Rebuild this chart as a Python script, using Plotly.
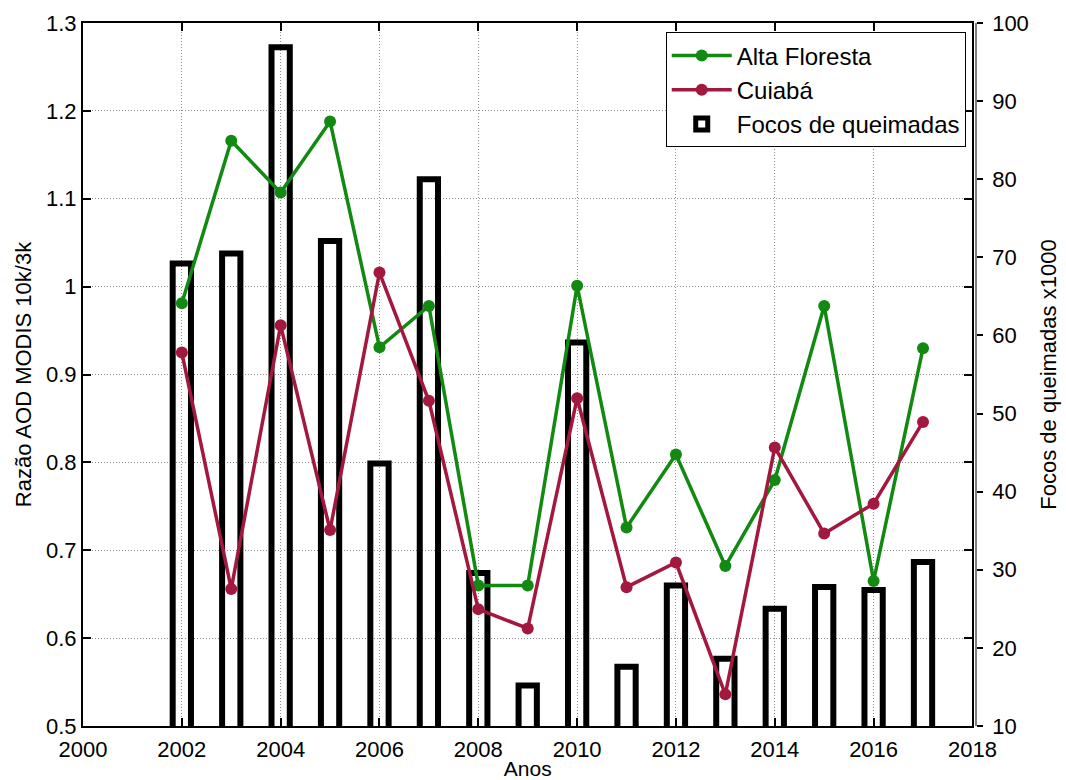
import plotly.graph_objects as go

# Annual series, 2002-2017
years = list(range(2002, 2018))
alta_floresta = [0.981, 1.166, 1.107, 1.188, 0.931, 0.978, 0.660, 0.660,
                 1.001, 0.726, 0.809, 0.682, 0.780, 0.978, 0.665, 0.930]
cuiaba = [0.925, 0.656, 0.956, 0.723, 1.016, 0.870, 0.633, 0.611,
          0.873, 0.658, 0.686, 0.536, 0.817, 0.719, 0.753, 0.846]
focos = [69.2, 70.5, 96.9, 72.1, 43.6, 80.0, 29.6, 15.2,
         59.1, 17.6, 28.0, 18.6, 25.0, 27.8, 27.4, 31.0]

x_ticks = list(range(2000, 2019, 2))
left_ticks = [0.5, 0.6, 0.7, 0.8, 0.9, 1.0, 1.1, 1.2, 1.3]
left_labels = ["0.5", "0.6", "0.7", "0.8", "0.9", "1", "1.1", "1.2", "1.3"]

GREEN = "#128a12"
RED = "#a3183f"
FONT = "Liberation Sans, Arial, sans-serif"

fig = go.Figure()

# Fire counts as open bars on the right-hand axis (base layer)
fig.add_trace(go.Bar(
    x=years, y=focos, yaxis="y", name="Focos de queimadas",
    width=0.37, legendrank=3,
    marker=dict(color="rgba(0,0,0,0)", line=dict(color="black", width=6)),
))

# AOD ratio lines on the left-hand axis (overlay, drawn above the bars)
fig.add_trace(go.Scatter(
    x=years, y=alta_floresta, yaxis="y2", name="Alta Floresta",
    mode="lines+markers", line=dict(color=GREEN, width=3.5),
    marker=dict(color=GREEN, size=12), legendrank=1,
))
fig.add_trace(go.Scatter(
    x=years, y=cuiaba, yaxis="y2", name="Cuiabá",
    mode="lines+markers", line=dict(color=RED, width=3.5),
    marker=dict(color=RED, size=12), legendrank=2,
))

grid = dict(showgrid=True, gridcolor="#8c8c8c", gridwidth=1, griddash="1px,2px")

fig.update_layout(
    width=1066, height=780,
    margin=dict(l=83, r=90, t=23, b=54, autoexpand=False),
    paper_bgcolor="white", plot_bgcolor="white",
    font=dict(family=FONT, size=22, color="black"),
    showlegend=True,
    barmode="overlay",
    xaxis=dict(
        domain=[0, 0.996], range=[2000, 2018], automargin=False,
        tickmode="array", tickvals=x_ticks,
        ticks="inside", ticklen=8, tickwidth=1.5, tickcolor="black",
        showline=True, linecolor="black", linewidth=2, mirror="ticks",
        zeroline=False, tickfont=dict(size=22), ticklabelstandoff=3,
        title=dict(text="Anos", font=dict(size=21), standoff=2),
        **grid,
    ),
    # right axis: fire counts
    yaxis=dict(
        range=[10, 100], dtick=10, side="right", automargin=False,
        anchor="free", position=1.0,
        ticks="outside", ticklen=6, tickwidth=1.5, tickcolor="black",
        showline=True, linecolor="#808080", linewidth=1.5,
        showgrid=False, zeroline=False, tickfont=dict(size=22),
        ticklabelstandoff=5,
        title=dict(text="Focos de queimadas x1000", font=dict(size=22), standoff=12),
    ),
    # left axis: AOD ratio
    yaxis2=dict(
        range=[0.5, 1.3], overlaying="y", side="left", anchor="x",
        automargin=False,
        tickmode="array", tickvals=left_ticks, ticktext=left_labels,
        ticks="inside", ticklen=8, tickwidth=2, tickcolor="black",
        showline=True, linecolor="black", linewidth=2, mirror="ticks",
        zeroline=False, tickfont=dict(size=22),
        title=dict(text="Razão AOD MODIS 10k/3k", font=dict(size=22), standoff=8),
        **grid,
    ),
    legend=dict(
        x=0.9885, y=0.9865, xanchor="right", yanchor="top",
        bgcolor="white", bordercolor="black", borderwidth=1,
        font=dict(size=24), tracegroupgap=0, traceorder="normal",
        itemwidth=60,
    ),
)

fig.write_html("out.html")
